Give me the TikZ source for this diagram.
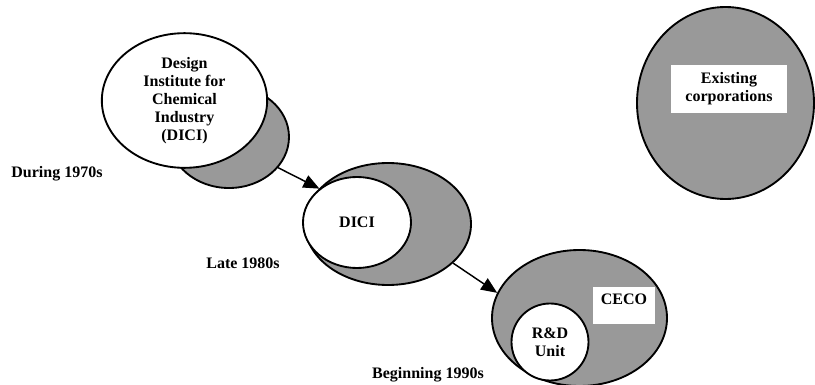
\documentclass[tikz,border=0pt]{standalone}
\usepackage{fontspec}
\setmainfont{Liberation Serif}
\usetikzlibrary{shapes.geometric, arrows.meta, positioning}
\definecolor{discgray}{HTML}{999999}

\begin{document}
\begin{tikzpicture}[
    x=0.75pt, y=-0.75pt,
    txt/.style={font=\fontsize{12}{13.6}\selectfont\bfseries, align=center},
    backdisc/.style={draw, ellipse, fill=discgray, line width=1.4pt, inner sep=0pt},
    frontdisc/.style={draw, ellipse, fill=white, line width=1.4pt, inner sep=0pt, txt},
    whitebox/.style={fill=white, inner sep=0pt, txt},
    period/.style={txt, anchor=base},
    arr/.style={-{Triangle[length=12pt, width=10pt]}, line width=1.1pt},
]
\useasboundingbox (0,0) rectangle (815,385);

% During 1970s
\node[backdisc, minimum width=90pt, minimum height=76.5pt] (back1) at (229,137) {};
\node[frontdisc, minimum width=124pt, minimum height=101pt] (front1) at (184.5,100.5)
    {Design\\Institute for\\Chemical\\Industry\\(DICI)};

% Late 1980s
\node[backdisc, minimum width=124.5pt, minimum height=91.5pt] (back2) at (388,224) {};
\node[frontdisc, minimum width=81pt, minimum height=68.25pt] (front2) at (357,222.5) {DICI};

% Beginning 1990s
\node[backdisc, minimum width=131.25pt, minimum height=102pt] (back3) at (579.5,318) {};
\node[frontdisc, circle, minimum size=57.75pt] (rnd) at (550,342) {R\&D\\Unit};
\node[whitebox, minimum width=46.5pt, text height=13.5pt, text depth=14.25pt] (ceco) at (624,305) {CECO};

% Existing corporations
\node[backdisc, minimum width=132.75pt, minimum height=144pt] (corp) at (725.5,103) {};
\node[whitebox, minimum width=87pt, minimum height=36pt] (corpbox) at (729,89) {Existing\\corporations};

% Period labels
\node[period] (p70) at (57,177) {During 1970s};
\node[period] (p80) at (243,268) {Late 1980s};
\node[period] (p90) at (428,378) {Beginning 1990s};

% Arrows
\foreach \a/\b in {back1.-32/front2.138, back2.-31/back3.163} {
    \draw[arr] (\a) -- (\b);
}

\end{tikzpicture}
\end{document}
